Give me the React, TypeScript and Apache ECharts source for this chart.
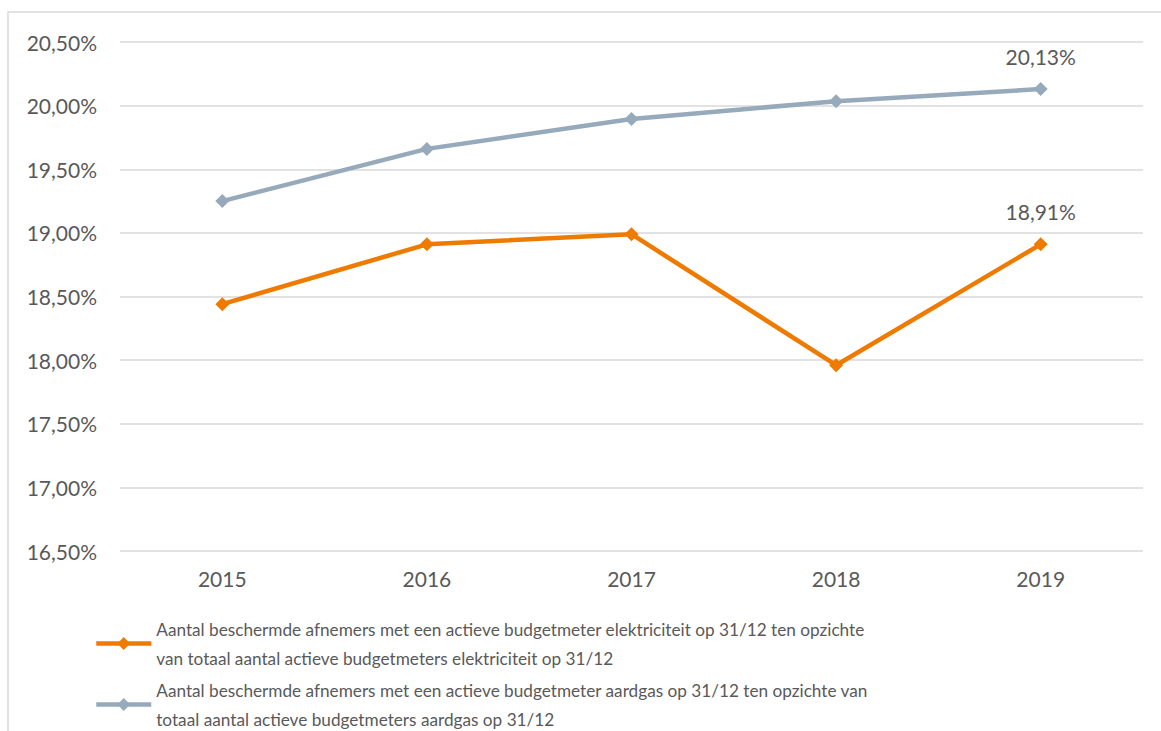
import React, { useEffect, useRef } from "react";
import * as echarts from "echarts";

const years = ["2015", "2016", "2017", "2018", "2019"];
const elektriciteit = [18.44, 18.91, 18.99, 17.96, 18.91];
const aardgas = [19.25, 19.66, 19.895, 20.035, 20.13];
const nameElek =
  "Aantal beschermde afnemers met een actieve budgetmeter elektriciteit op 31/12 ten opzichte\nvan totaal aantal actieve budgetmeters elektriciteit op 31/12";
const nameGas =
  "Aantal beschermde afnemers met een actieve budgetmeter aardgas op 31/12 ten opzichte van\ntotaal aantal actieve budgetmeters aardgas op 31/12";
const yMin = 16.5;
const yMax = 20.5;
const yStep = 0.5;

const FONT = "Lato, 'Open Sans', sans-serif";
const TEXT = "#595959";
const ORANGE = "#EE7B00";
const GREY = "#97AABC";

const fmt = (v: number) => v.toFixed(2).replace(".", ",") + "%";

export default function App() {
  const ref = useRef<HTMLDivElement>(null);
  useEffect(() => {
    document.body.style.margin = "0";
    document.body.style.overflow = "hidden";
    const chart = echarts.init(ref.current!, undefined, { renderer: "svg" });
    const lastLabel = (arr: number[]) =>
      arr.map((v, i) =>
        i === arr.length - 1
          ? {
              value: v,
              label: {
                show: true,
                position: "top",
                distance: 15,
                formatter: (p: any) => fmt(p.value),
                color: TEXT,
                fontSize: 21,
                fontFamily: FONT,
              },
            }
          : v
      );
    const legendCommon = {
      orient: "vertical",
      left: 94,
      padding: 0,
      itemWidth: 55,
      itemHeight: 16,
      itemGap: 0,
      lineStyle: { width: 4.5 },
      textStyle: {
        color: TEXT,
        fontSize: 17.2,
        fontFamily: FONT,
        lineHeight: 29,
        padding: [29, 0, 0, 0],
      },
    };
    chart.setOption({
      animation: false,
      backgroundColor: "#ffffff",
      graphic: [
        {
          type: "rect",
          shape: { x: 8, y: 12, width: 1170, height: 740 },
          style: { fill: "none", stroke: "#d9d9d9", lineWidth: 1.5 },
          silent: true,
        },
      ],
      grid: { left: 120, right: 18, top: 42, bottom: 180 },
      legend: [
        { ...legendCommon, top: 600, data: [nameElek] },
        { ...legendCommon, top: 661, data: [nameGas] },
      ],
      xAxis: {
        type: "category",
        data: years,
        boundaryGap: true,
        axisLine: { show: false },
        axisTick: { show: false },
        axisLabel: { color: TEXT, fontSize: 21, fontFamily: FONT, margin: 17 },
      },
      yAxis: {
        type: "value",
        min: yMin,
        max: yMax,
        interval: yStep,
        axisLine: { show: false },
        axisTick: { show: false },
        axisLabel: {
          color: TEXT,
          fontSize: 21,
          fontFamily: FONT,
          margin: 23,
          formatter: (v: number) => fmt(v),
        },
        splitLine: { lineStyle: { color: "#d9d9d9", width: 1.5 } },
      },
      series: [
        {
          name: nameElek,
          type: "line",
          data: lastLabel(elektriciteit),
          symbol: "diamond",
          symbolSize: 14,
          itemStyle: { color: ORANGE },
          lineStyle: { color: ORANGE, width: 4.5 },
        },
        {
          name: nameGas,
          type: "line",
          data: lastLabel(aardgas),
          symbol: "diamond",
          symbolSize: 14,
          itemStyle: { color: GREY },
          lineStyle: { color: GREY, width: 4.5 },
        },
      ],
    });
    return () => chart.dispose();
  }, []);
  return <div ref={ref} style={{ width: 1161, height: 731 }} />;
}
